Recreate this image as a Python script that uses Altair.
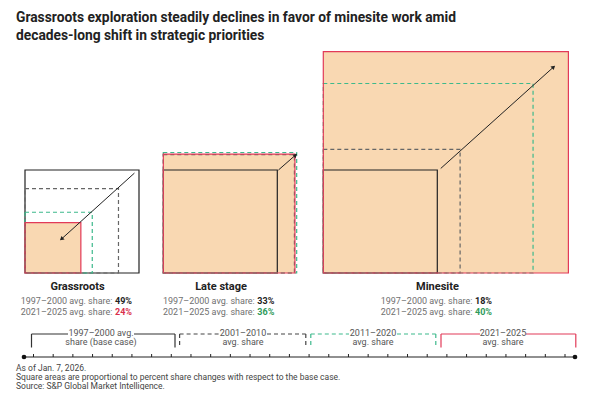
import altair as alt
import pandas as pd
import numpy as np

# ---------------- data ----------------
TITLE = ["Grassroots exploration steadily declines in favor of minesite work amid",
         "decades-long shift in strategic priorities"]
PANELS = ["Grassroots", "Late stage", "Minesite"]
PERIODS = ["1997–2000", "2001–2010", "2011–2020", "2021–2025"]
# side of each period's square relative to the base-case (1997–2000) square
SIDE_GRASSROOTS = [1.00, 0.82, 0.59, 0.49]
SIDE_LATE = [1.00, 1.15, 1.17, 1.155]
SIDE_MINESITE = [1.00, 1.20, 1.84, 2.15]
SHARE_BASE = ["49%", "33%", "18%"]
SHARE_LATEST = ["24%", "36%", "40%"]
ARROW_FROM = [(0.96, 0.97), (1.01, 1.00), (1.03, 1.015)]
ARROW_TO = [(0.32, 0.33), (1.16, 1.145), (2.02, 2.00)]
BRACKET_LINE1 = ["1997–2000 avg.", "2001–2010", "2011–2020", "2021–2025"]
BRACKET_LINE2 = ["share (base case)", "avg. share", "avg. share", "avg. share"]
NOTES = ["As of Jan. 7, 2026.",
         "Square areas are proportional to percent share changes with respect to the base case.",
         "Source: S&P Global Market Intelligence."]
TIMELINE_TICKS = 28

# ---------------- layout ----------------
W, H = 586, 382
M = 8
UX, UY = 114, 103          # px per base-square side
PANEL_LEFT = [25, 163.3, 323.3]
BASE_Y = 273
FONT = "Roboto"
PEACH = "#F9D8B2"
RED = "#E23A58"
GREEN = "#3DB98C"
GRAY = "#555555"
DARK = "#222222"

xoff = [(p - M) / UX for p in PANEL_LEFT]
xscale = alt.Scale(domain=[0, W / UX], range=[0, W], nice=False, zero=False)
yscale = alt.Scale(domain=[-(H - (BASE_Y - M)) / UY, (BASE_Y - M) / UY], range=[H, 0], nice=False, zero=False)

rows = []
for pi, sides in enumerate([SIDE_GRASSROOTS, SIDE_LATE, SIDE_MINESITE]):
    for k, s in enumerate(sides):
        rows.append(dict(panel=PANELS[pi], period=PERIODS[k], x=xoff[pi], x2=xoff[pi] + s, y=0.0, y2=s))
sq = pd.DataFrame(rows)

def sq_layer(period, **mk):
    return alt.Chart(sq).transform_filter(alt.datum.period == period).mark_rect(**mk).encode(
        x=alt.X("x:Q", scale=xscale, axis=None), x2="x2:Q",
        y=alt.Y("y:Q", scale=yscale, axis=None), y2="y2:Q")

fill = sq_layer(PERIODS[3], fill=PEACH)
base = sq_layer(PERIODS[0], fill="white", fillOpacity=0, stroke=DARK, strokeWidth=1.2)
d1 = sq_layer(PERIODS[1], fill="white", fillOpacity=0, stroke="#666666", strokeWidth=1.2, strokeDash=[4, 3])
d2 = sq_layer(PERIODS[2], fill="white", fillOpacity=0, stroke=GREEN, strokeWidth=1.2, strokeDash=[4, 3])
last = sq_layer(PERIODS[3], fill="white", fillOpacity=0, stroke=RED, strokeWidth=1.2)

arr = pd.DataFrame(dict(
    x=[xoff[i] + ARROW_FROM[i][0] for i in range(3)],
    y=[ARROW_FROM[i][1] for i in range(3)],
    x2=[xoff[i] + ARROW_TO[i][0] for i in range(3)],
    y2=[ARROW_TO[i][1] for i in range(3)],
))
arr["ang"] = [float(np.degrees(np.arctan2((r.x2 - r.x) * UX, (r.y2 - r.y) * UY))) % 360 for r in arr.itertuples()]
arrow = alt.Chart(arr).mark_rule(color=DARK, strokeWidth=1).encode(
    x=alt.X("x:Q", scale=xscale, axis=None), x2="x2:Q",
    y=alt.Y("y:Q", scale=yscale, axis=None), y2="y2:Q")
head = alt.Chart(arr).mark_point(shape="triangle-up", filled=True, color=DARK, size=22, opacity=1).encode(
    x=alt.X("x2:Q", scale=xscale, axis=None),
    y=alt.Y("y2:Q", scale=yscale, axis=None),
    angle=alt.Angle("ang:Q", scale=None))

# ---------------- helpers for decoration (pixel positions) ----------------
def px(v):
    return v - M

def text_layer(items, **mk):
    df = pd.DataFrame(items, columns=["x", "y", "t"])
    df["x"] = df["x"] - M
    df["y"] = df["y"] - M
    return alt.Chart(df).mark_text(font=FONT, **mk).encode(
        x=alt.X("x:Q", scale=None, axis=None), y=alt.Y("y:Q", scale=None, axis=None), text="t:N")

def rule_layer(segs, **mk):
    df = pd.DataFrame(segs, columns=["x", "y", "x2", "y2"]) - M
    return alt.Chart(df).mark_rule(**mk).encode(
        x=alt.X("x:Q", scale=None, axis=None), y=alt.Y("y:Q", scale=None, axis=None),
        x2="x2:Q", y2="y2:Q")

layers = [fill, base, d1, d2, last, arrow, head]

# title
layers.append(text_layer([(16, 22, TITLE[0]), (16, 40, TITLE[1])], align="left", baseline="alphabetic",
                         fontSize=13.8, fontWeight="bold", color=DARK))

# panel labels
centers = [77.5, 221, 437.5]
splits = [115, 257.3, 475]
layers.append(text_layer([(centers[i], 287, PANELS[i]) for i in range(3)], align="center", baseline="middle",
                         fontSize=11, fontWeight="bold", color=DARK))
pre = []
for i in range(3):
    pre.append((splits[i] - 2.5, 301, PERIODS[0] + " avg. share:"))
    pre.append((splits[i] - 2.5, 311.5, PERIODS[3] + " avg. share:"))
layers.append(text_layer(pre, align="right", baseline="middle", fontSize=9, color="#707070"))
layers.append(text_layer([(splits[i], 301, SHARE_BASE[i]) for i in range(3)], align="left", baseline="middle",
                         fontSize=9, fontWeight="bold", color=DARK))
layers.append(text_layer([(splits[0], 311.5, SHARE_LATEST[0])], align="left", baseline="middle",
                         fontSize=9, fontWeight="bold", color="#D92E4C"))
layers.append(text_layer([(splits[i], 311.5, SHARE_LATEST[i]) for i in (1, 2)], align="left", baseline="middle",
                         fontSize=9, fontWeight="bold", color="#2E9A5A"))

# brackets
TOP, BOT = 334, 347.5
brk = [(31.5, 175, 68, 134), (179.6, 305.8, 219, 267), (310.8, 435.8, 349, 397), (441, 575.8, 480, 526)]
styles = [dict(color="#333333"), dict(color="#444444", strokeDash=[4, 3]),
          dict(color=GREEN, strokeDash=[4, 3]), dict(color=RED)]
for (l, r, g1, g2), st in zip(brk, styles):
    layers.append(rule_layer([(l, TOP, g1, TOP), (g2, TOP, r, TOP), (l, TOP, l, BOT), (r, TOP, r, BOT)],
                             strokeWidth=1.2, **st))
bcent = [101, 243, 373, 503]
layers.append(text_layer([(bcent[i], 332.5, BRACKET_LINE1[i]) for i in range(4)] +
                         [(bcent[i], 342, BRACKET_LINE2[i]) for i in range(4)],
                         align="center", baseline="middle", fontSize=9, color=GRAY))

# timeline
TL_Y = 357
layers.append(rule_layer([(24, TL_Y, 575, TL_Y)], color=DARK, strokeWidth=1.2))
ticks = np.linspace(33.5, 565, TIMELINE_TICKS)
layers.append(rule_layer([(t, TL_Y - 3, t, TL_Y) for t in ticks], color=DARK, strokeWidth=1))
dots = pd.DataFrame(dict(x=[px(24), px(575)], y=[px(TL_Y), px(TL_Y)]))
layers.append(alt.Chart(dots).mark_circle(color="#111111", size=22, opacity=1).encode(
    x=alt.X("x:Q", scale=None, axis=None), y=alt.Y("y:Q", scale=None, axis=None)))

# notes
layers.append(text_layer([(16, 368 + 9 * i, NOTES[i]) for i in range(3)], align="left", baseline="middle",
                         fontSize=8.5, color="#444444"))

chart = alt.layer(*layers).properties(
    width=W, height=H, padding=0, autosize=alt.AutoSizeParams(type="none"), background="white"
).configure_view(stroke=None)

chart.save("out.html", embed_options={"renderer": "svg", "actions": False})
